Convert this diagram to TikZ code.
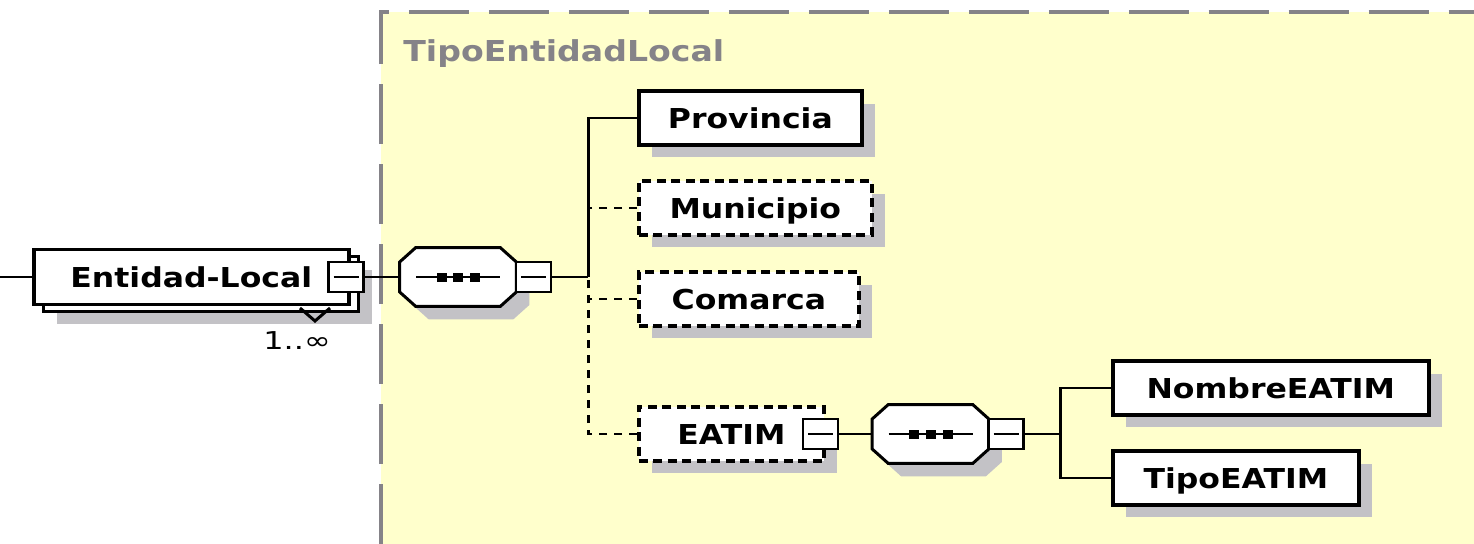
\documentclass[tikz,border=0pt]{standalone}
\usepackage{fontspec}
\usetikzlibrary{shadows}
\newfontfamily\boxfont[FakeStretch=1.15]{DejaVu Sans Bold}
\newfontfamily\cardfont[FakeStretch=1.3]{DejaVu Sans}
\definecolor{typeyellow}{RGB}{255,255,204}
\definecolor{typegray}{RGB}{133,131,136}
\definecolor{shadowgray}{RGB}{195,194,198}

\begin{document}
\begin{tikzpicture}[x=0.02cm, y=-0.02cm,
  box/.style={draw, line width=2.1pt, fill=white, anchor=west,
    font=\boxfont\fontsize{15.6pt}{18pt}\selectfont,
    minimum height=1.08cm, inner sep=2pt, text height=11.4pt, text depth=0pt},
  elem/.style={box, drop shadow={shadow xshift=0.26cm, shadow yshift=-0.25cm,
    fill=shadowgray, opacity=1}},
  optelem/.style={elem, dash pattern=on 0.18cm off 0.11cm},
  minusbox/.style={draw, line width=1.6pt, fill=white, minimum width=0.7cm,
    minimum height=0.6cm, inner sep=0pt,
    path picture={\draw[line width=1.4pt] ([xshift=0.1cm]path picture bounding box.west)
      -- ([xshift=-0.1cm]path picture bounding box.east);}},
  seqbox/.style={minimum width=2.32cm, minimum height=1.16cm, inner sep=0pt},
  seqline/.style={draw, line width=1.7pt, fill=white,
    drop shadow={shadow xshift=0.26cm, shadow yshift=-0.26cm, fill=shadowgray, opacity=1}},
  link/.style={line width=1.7pt},
  optlink/.style={link, dash pattern=on 0.16cm off 0.14cm},
  border/.style={draw=typegray, line width=2pt, dash pattern=on 1.2cm off 0.4cm}]
  \useasboundingbox[fill=white] (0,0) rectangle (1474,544);

  % complex type area
  \fill[typeyellow] (381,12) rectangle (1474,544);
  \draw[border] (381,544) -- (381,12) -- (1474,12);
  \node[anchor=base west, inner sep=0pt, text=typegray,
    font=\boxfont\fontsize{16.4pt}{18pt}\selectfont]
    (typename) at (403,62) {TipoEntidadLocal};

  % root element
  \node[box, minimum width=6.3cm, minimum height=1.1cm,
    drop shadow={shadow xshift=0.46cm, shadow yshift=-0.4cm, fill=shadowgray, opacity=1},
    copy shadow={shadow xshift=0.2cm, shadow yshift=-0.14cm, fill=white, draw=black, line width=1.6pt}]
    (entidad) at (32,277) {Entidad-Local};
  \node[minusbox] (entmin) at (346,277) {};
  \draw[link] (300,308) -- (315,321) -- (330,308);
  \node[font=\cardfont\fontsize{14pt}{16pt}\selectfont] (card) at (297,341) {1..∞};

  % sequences
  \node[seqbox] (seq1) at (458,277) {};
  \node[seqbox] (seq2) at (930.5,434) {};
  \foreach \s in {seq1,seq2} {
    \path[seqline] ([yshift=0.3cm]\s.west) -- ([xshift=0.32cm]\s.north west)
      -- ([xshift=-0.32cm]\s.north east) -- ([yshift=0.3cm]\s.east)
      -- ([yshift=-0.3cm]\s.east) -- ([xshift=-0.32cm]\s.south east)
      -- ([xshift=0.32cm]\s.south west) -- ([yshift=-0.3cm]\s.west) -- cycle;
    \draw[line width=1.4pt] ([xshift=-0.84cm]\s.center) -- ([xshift=0.84cm]\s.center);
    \foreach \dx in {-0.33,0,0.34}
      \fill ([xshift=\dx cm]\s.center) +(-0.1cm,-0.09cm) rectangle +(0.1cm,0.09cm);
  }
  \node[minusbox] (seq1min) at (533.5,277) {};
  \node[minusbox] (seq2min) at (1006,434) {};
  \coordinate (bus1) at (588,277);
  \coordinate (bus2) at (1060,434);

  % children
  \node[elem, minimum width=4.46cm]     (provincia) at (637,118) {Provincia};
  \node[optelem, minimum width=4.66cm]  (municipio) at (637,208) {Municipio};
  \node[optelem, minimum width=4.4cm]   (comarca)   at (637,299) {Comarca};
  \node[optelem, minimum width=3.7cm]   (eatim)     at (637,434) {EATIM};
  \node[minusbox] (eatimmin) at (820.5,434) {};
  \node[elem, minimum width=6.32cm] (nombre) at (1111,388) {NombreEATIM};
  \node[elem, minimum width=4.92cm] (tipo)   at (1111,478) {TipoEATIM};

  % connectors
  \coordinate (start) at (0,277);
  \draw[link] (start) -- (entidad.west);
  \draw[link] (entmin.east) -- (seq1.west);
  \draw[link] (seq1min.east) -- (bus1);
  \draw[link] (provincia.west) -| (bus1);
  \foreach \n in {municipio,comarca,eatim}
    \draw[optlink] (\n.west) -| (bus1);
  \draw[link] (eatimmin.east) -- (seq2.west);
  \draw[link] (seq2min.east) -- (bus2);
  \foreach \n in {nombre,tipo}
    \draw[link] (\n.west) -| (bus2);
\end{tikzpicture}
\end{document}
